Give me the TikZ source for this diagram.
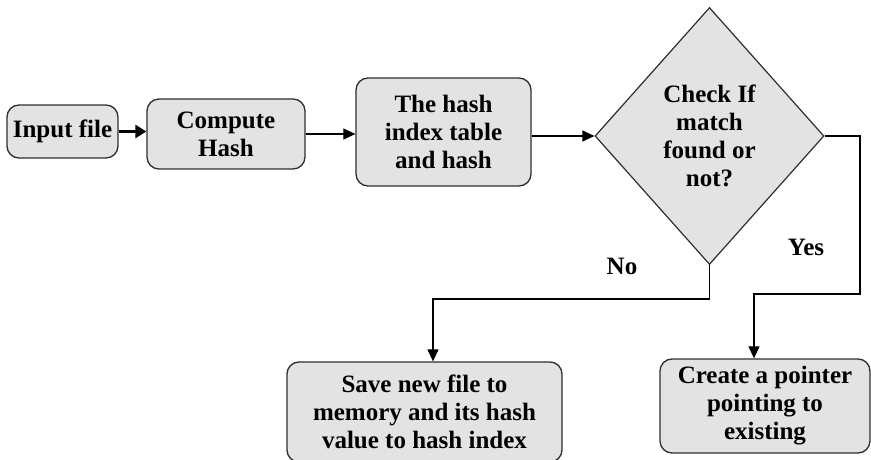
\documentclass[tikz,border=0pt]{standalone}
\usepackage{fontspec}
\setmainfont{Liberation Serif}
\usetikzlibrary{shapes.geometric,arrows.meta}
\definecolor{boxgray}{HTML}{E3E3E3}
\definecolor{edgegray}{HTML}{2E2E2E}
\begin{document}
\begin{tikzpicture}[x=1pt,y=-1pt,
  txt/.style={font=\fontsize{25}{28}\selectfont\bfseries, align=center},
  box/.style={txt, draw=edgegray, fill=boxgray, rounded corners=12pt, line width=1.3pt, inner sep=0pt},
  decision/.style={txt, shape=diamond, draw=edgegray, fill=boxgray, line width=1.2pt, inner sep=0pt},
  conn/.style={line width=1.2pt, -{Triangle[length=12pt,width=11pt]}},
  plain/.style={line width=1.2pt}]
\useasboundingbox (0,0) rectangle (871,460);
\clip (0,0) rectangle (871,460);
\node[box, minimum width=111pt, minimum height=53pt] (input) at (62.5,131.5) {Input file};
\node[box, minimum width=158pt, minimum height=70pt] (compute) at (226,134) {Compute\\Hash};
\node[box, minimum width=175pt, minimum height=108pt] (hash) at (443.5,132) {The hash\\index table\\and hash};
\node[decision, minimum width=229pt, minimum height=257pt] (check) at (709.5,136) {Check If\\match\\found or\\not?};
\node[box, minimum width=275pt, minimum height=100pt] (save) at (424.5,412) {Save new file to\\memory and its hash\\value to hash index};
\node[box, minimum width=210pt, minimum height=94pt] (create) at (765,406) {Create a pointer\\pointing to\\existing};
\node[txt] (no) at (622,266) {No};
\node[txt] (yes) at (806,247) {Yes};
\coordinate (y1) at (860,137);
\coordinate (y2) at (860,294);
\coordinate (ya) at (754,294);
\coordinate (na) at (433,299);
\draw[line width=3pt, -{Triangle[length=11pt,width=13pt]}] (input.east) -- (input.east -| compute.west);
\draw[conn] (compute.east) -- (compute.east -| hash.west);
\draw[conn] (hash.east |- check.west) -- (check.west);
\draw[conn] (check.east) -- (check.east -| y1) -- (y2) -- (ya) -- (ya |- create.north);
\draw[conn] (check.south) -- (check.south |- na) -- (na) -- (na |- save.north);
\end{tikzpicture}
\end{document}
